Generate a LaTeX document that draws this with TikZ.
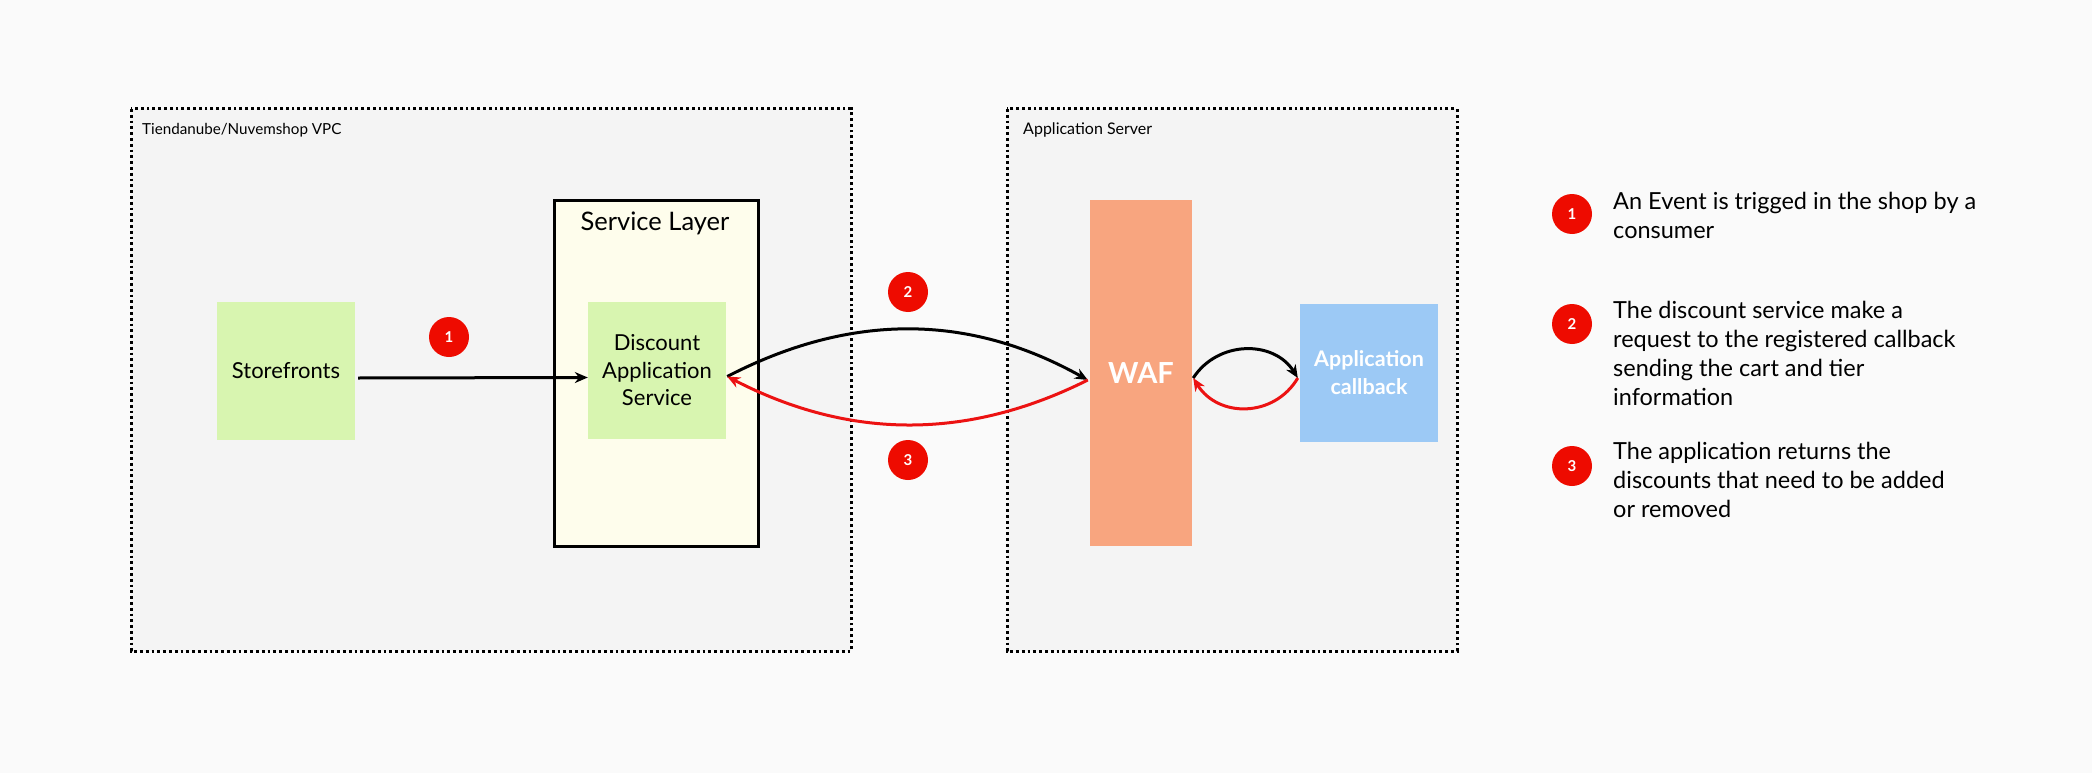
\documentclass[tikz,border=0pt]{standalone}
\usepackage{fontspec}
\setmainfont{Lato}
\usetikzlibrary{arrows.meta}
\definecolor{bgc}{HTML}{FAFAFA}
\definecolor{contc}{HTML}{F4F4F4}
\definecolor{servc}{HTML}{FEFDEC}
\definecolor{greenc}{HTML}{D8F5B0}
\definecolor{wafc}{HTML}{F8A57F}
\definecolor{cbc}{HTML}{9CC9F5}
\definecolor{redc}{HTML}{EE0B00}
\definecolor{redl}{HTML}{EC1212}
\tikzset{
  container/.style={draw=black, fill=contc, line width=3pt, dash pattern=on 2.8pt off 3pt},
  box/.style={inner sep=0pt, align=center, font=\fontsize{22}{27.5}\selectfont},
  badge/.style={circle, fill=redc, minimum size=40pt, inner sep=0pt, text=white, font=\fontsize{15}{15}\selectfont\bfseries},
  legend/.style={anchor=west, align=left, inner sep=0pt, font=\fontsize{23.5}{29}\selectfont},
  arr/.style={line width=3pt, -{Stealth[length=13pt,width=11pt]}},
  redarr/.style={arr, draw=redl, -{Stealth[length=13pt,width=11pt,fill=redl]}},
}
\begin{document}
\begin{tikzpicture}[x=1pt,y=-1pt]
\fill[bgc] (0,0) rectangle (2092,773);
\useasboundingbox (0,0) rectangle (2092,773);
% containers
\draw[container] (131,109) rectangle (851,651);
\draw[container] (1007,109) rectangle (1457,651);
\node[anchor=west, inner sep=0pt, font=\fontsize{15.2}{16}\selectfont] (vpc) at (142,130) {Tiendanube/Nuvemshop VPC};
\node[anchor=west, inner sep=0pt, font=\fontsize{16}{16}\selectfont] (appsrv) at (1023,130) {Application Server};
% service layer
\node[draw=black, fill=servc, line width=3pt, minimum width=204pt, minimum height=346pt, inner sep=0pt] (sl) at (656,373) {};
\node[inner sep=0pt, font=\fontsize{25.5}{26}\selectfont] (sltitle) at (655,223) {Service Layer};
% boxes
\node[box, fill=greenc, minimum width=138pt, minimum height=138pt] (sf) at (286,371) {Storefronts};
\node[box, fill=greenc, minimum width=138pt, minimum height=137pt] (disc) at (657,370.5) {Discount\\Application\\Service};
\node[box, fill=wafc, minimum width=102pt, minimum height=346pt, text=white, font=\fontsize{29}{29}\selectfont\bfseries] (waf) at (1141,373) {WAF};
\node[box, fill=cbc, minimum width=138pt, minimum height=138pt, text=white, font=\fontsize{21.5}{28}\selectfont\bfseries] (cb) at (1369,373) {Application\\callback};
% arrows
\draw[arr] ([shift={(3pt,-7pt)}]sf.east) -- ([yshift=-7pt]disc.west);
\draw[arr] ([shift={(1pt,-6pt)}]disc.east) .. controls (850,313) and (968,313) .. ([shift={(-2pt,-7pt)}]waf.west);
\draw[redarr] ([shift={(-2pt,-7pt)}]waf.west) .. controls (968,440) and (850,440) .. ([shift={(1pt,-6pt)}]disc.east);
\draw[arr] ([shift={(1pt,-5pt)}]waf.east) .. controls (1218,340) and (1274,340) .. ([shift={(-2pt,-5pt)}]cb.west);
\draw[redarr] ([shift={(-2pt,-5pt)}]cb.west) .. controls (1274,418) and (1218,418) .. ([shift={(1pt,-5pt)}]waf.east);
% badges on diagram
\node[badge] (b1) at (449,337) {1};
\node[badge] (b2) at (908,292) {2};
\node[badge] (b3) at (908,460) {3};
% legend
\node[badge] (l1) at (1572,214) {1};
\node[badge] (l2) at (1572,324) {2};
\node[badge] (l3) at (1572,466) {3};
\node[legend] (t1) at (1613,215) {An Event is trigged in the shop by a\\consumer};
\node[legend] (t2) at (1613,353.5) {The discount service make a\\request to the registered callback\\sending the cart and tier\\information};
\node[legend] (t3) at (1613,480) {The application returns the\\discounts that need to be added\\or removed};
\end{tikzpicture}
\end{document}
